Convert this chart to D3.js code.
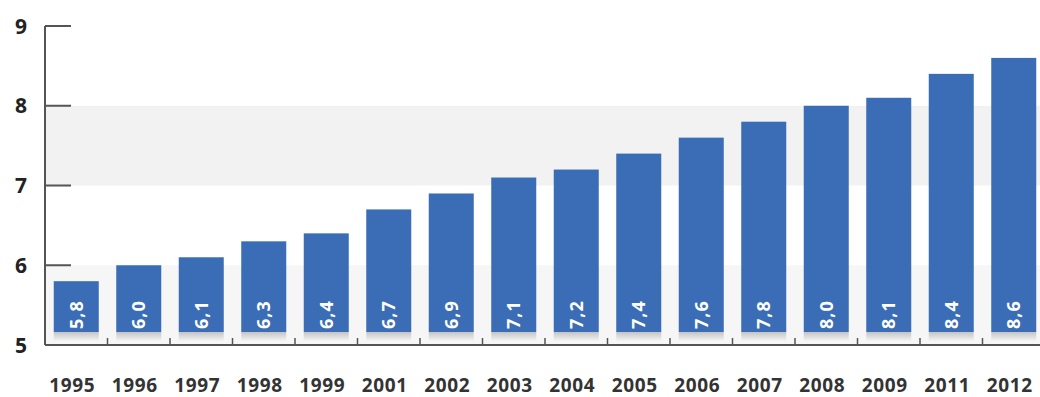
<!DOCTYPE html>
<html>
<head>
<meta charset="utf-8">
<script src="https://cdn.jsdelivr.net/npm/d3@7"></script>
<style>
  html, body { margin: 0; padding: 0; background: #fff; }
  svg { display: block; }
</style>
</head>
<body>
<svg id="chart" width="1040" height="397"></svg>
<script>
// Annual values, one bar per year
const years  = ["1995","1996","1997","1998","1999","2001","2002","2003","2004","2005","2006","2007","2008","2009","2011","2012"];
const values = [5.8, 6.0, 6.1, 6.3, 6.4, 6.7, 6.9, 7.1, 7.2, 7.4, 7.6, 7.8, 8.0, 8.1, 8.4, 8.6];
const yTicks = [5, 6, 7, 8, 9];
// Shaded horizontal bands [from, to]
const bands  = [[5, 6], [7, 8]];

(function () {
const svg = d3.select("#chart");
const W = 1040;
const plotLeft = 45, plotTop = 26, plotBottom = 345;

const x = d3.scaleBand().domain(years).range([plotLeft, plotLeft + 1000]).paddingInner(0.28).paddingOuter(0.14);
const y = d3.scaleLinear().domain([5, 9]).range([plotBottom, plotTop]);

const fmt = d3.formatLocale({ decimal: ",", thousands: ".", grouping: [3], currency: ["", ""] }).format(".1f");

// background bands
svg.append("g").selectAll("rect").data(bands).join("rect")
  .attr("x", plotLeft).attr("width", W - plotLeft)
  .attr("y", d => y(d[1])).attr("height", d => y(d[0]) - y(d[1]))
  .attr("fill", (d, i) => i === 0 ? "#f6f6f6" : "#f2f2f2");

// gradient for the strip under each bar
const defs = svg.append("defs");
const grad = defs.append("linearGradient").attr("id", "shade").attr("x1", 0).attr("x2", 0).attr("y1", 0).attr("y2", 1);
grad.append("stop").attr("offset", "0%").attr("stop-color", "#c4c4c4");
grad.append("stop").attr("offset", "100%").attr("stop-color", "#f4f4f4");

const gap = 13;
// bars
const bars = svg.append("g");
bars.selectAll("rect.bar").data(values).join("rect")
  .attr("class", "bar")
  .attr("x", (d, i) => x(years[i]))
  .attr("width", x.bandwidth())
  .attr("y", d => y(d))
  .attr("height", d => y(5) - y(d) - gap)
  .attr("fill", "#3a6db5");

bars.selectAll("rect.shade").data(values).join("rect")
  .attr("class", "shade")
  .attr("x", (d, i) => x(years[i]))
  .attr("width", x.bandwidth())
  .attr("y", y(5) - gap)
  .attr("height", 9)
  .attr("fill", "url(#shade)");

// value labels inside bars, rotated
bars.selectAll("text").data(values).join("text")
  .attr("transform", (d, i) => `translate(${x(years[i]) + x.bandwidth() / 2 + 6.5},${y(5) - gap - 3}) rotate(-90)`)
  .attr("text-anchor", "start")
  .attr("fill", "#fff")
  .attr("font-family", "'Open Sans', sans-serif")
  .attr("font-weight", "bold")
  .attr("font-size", 18)
  .attr("letter-spacing", 1)
  .text(d => fmt(d));

// y axis line and ticks
const axis = svg.append("g").attr("stroke", "#555").attr("stroke-width", 2);
axis.append("line").attr("x1", plotLeft).attr("x2", plotLeft).attr("y1", y(9)).attr("y2", y(5));
axis.selectAll("line.t").data(yTicks.filter(t => t > 5)).join("line")
  .attr("class", "t")
  .attr("x1", plotLeft).attr("x2", plotLeft + 26)
  .attr("y1", d => y(d)).attr("y2", d => y(d));

// baseline and category separators
axis.append("line").attr("x1", plotLeft).attr("x2", W).attr("y1", y(5)).attr("y2", y(5));
axis.selectAll("line.s").data(years.slice(1)).join("line")
  .attr("class", "s")
  .attr("stroke-width", 1.5)
  .attr("x1", d => x(d) - x.step() * x.paddingInner() / 2)
  .attr("x2", d => x(d) - x.step() * x.paddingInner() / 2)
  .attr("y1", y(5)).attr("y2", y(5) - 7);

// y tick labels
svg.append("g").selectAll("text").data(yTicks).join("text")
  .attr("x", 21).attr("y", d => y(d)).attr("dy", "0.36em")
  .attr("text-anchor", "middle")
  .attr("fill", "#222")
  .attr("font-family", "'Open Sans', sans-serif")
  .attr("font-weight", "bold")
  .attr("font-size", 21)
  .text(d => d);

// year labels
svg.append("g").selectAll("text").data(years).join("text")
  .attr("x", d => x(d) + x.bandwidth() / 2 - 4).attr("y", 392)
  .attr("text-anchor", "middle")
  .attr("fill", "#333")
  .attr("font-family", "'Open Sans', sans-serif")
  .attr("font-weight", "bold")
  .attr("font-size", 19)
  .attr("letter-spacing", 0.6)
  .text(d => d);
})();
</script>
</body>
</html>
